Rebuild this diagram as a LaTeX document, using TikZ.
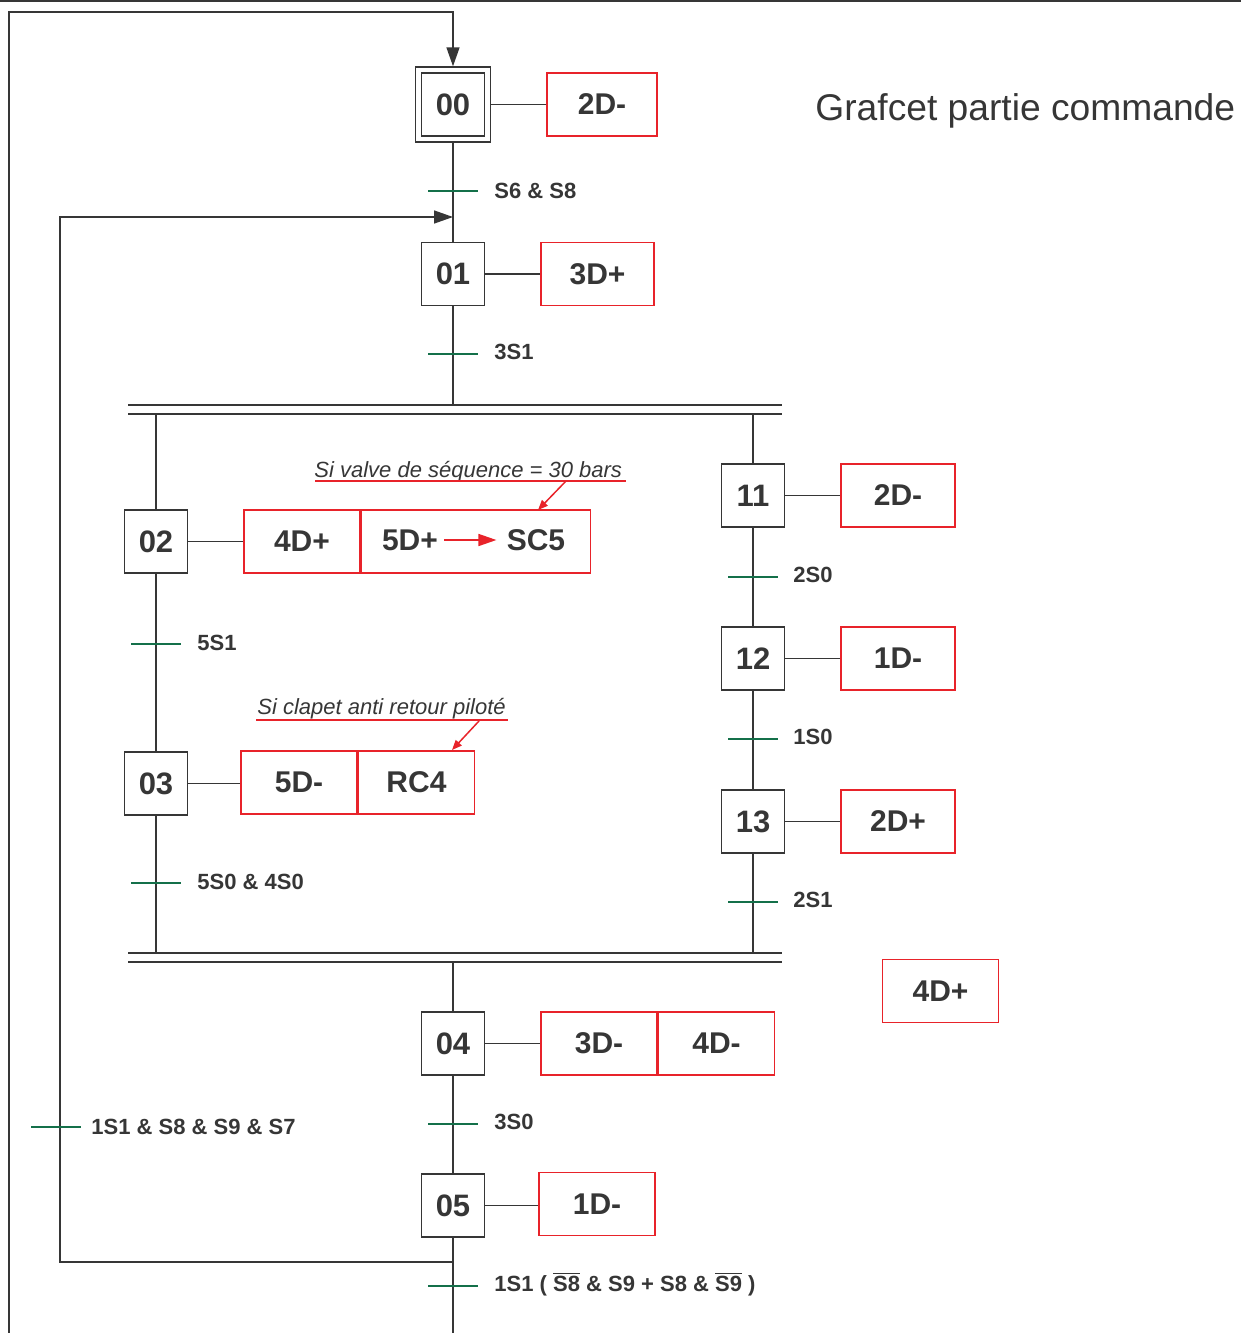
\documentclass[tikz,border=0pt]{standalone}
\usepackage{fontspec}
\setmainfont{Liberation Sans}
\usetikzlibrary{arrows.meta,positioning}

\definecolor{trait}{HTML}{363636}
\definecolor{rouge}{HTML}{E8232A}
\definecolor{vert}{HTML}{14704A}

\newcommand{\fs}[1]{\fontsize{#1}{#1}\selectfont}
\newcommand{\nonS}[1]{$\overline{\mbox{#1}}$}

\tikzset{
  etape/.style={draw=trait, line width=0.75pt, minimum width=31.5pt, minimum height=31.5pt,
    inner sep=0pt, text=trait, font=\bfseries\fs{15.5}},
  initiale/.style={etape, minimum width=34.5pt, minimum height=34.5pt,
    double, double distance=2.2pt, outer sep=1.85pt},
  action/.style={draw=rouge, line width=0.75pt, minimum width=58pt, minimum height=31.5pt,
    inner sep=0pt, text=trait, font=\bfseries\fs{15}},
  lien/.style={draw=trait, line width=0.75pt},
  recep/.style={draw=vert, line width=0.8pt},
  cond/.style={anchor=west, inner sep=0pt, text=trait, font=\bfseries\fs{11}},
  note/.style={anchor=base west, inner sep=0pt, text=trait, font=\itshape\fs{11}},
  fleche/.style={-{Triangle[length=9.5pt,width=6.5pt]}},
  renvoi/.style={draw=rouge, line width=0.75pt, -{Triangle[length=5pt,width=4pt]}},
}

\begin{document}
\begin{tikzpicture}[x=0.5pt, y=-0.5pt]
\useasboundingbox (0,0) rectangle (1241,1333);

% cadre du haut
\draw[lien] (0,0.75) -- (1241,0.75);

\node[anchor=west, inner sep=0pt, text=trait, font=\fs{18.6}] (titre) at (815,111) {Grafcet partie commande};

% etapes
\node[initiale] (e00) at (453,104.5) {00};
\node[etape] (e01) at (453,274) {01};
\node[etape] (e02) at (156,541.5) {02};
\node[etape] (e03) at (156,783.5) {03};
\node[etape] (e11) at (753,495.5) {11};
\node[etape] (e12) at (753,658.5) {12};
\node[etape] (e13) at (753,821.5) {13};
\node[etape] (e04) at (453,1043.5) {04};
\node[etape] (e05) at (453,1205.5) {05};

% actions
\node[action, minimum width=55pt] (a00) at (602,104.5) {2D-};
\node[action, minimum width=56.5pt] (a01) at (597.5,274) {3D+};
\node[action] (a02a) at (302,541.5) {4D+};
\node[action, minimum width=114.5pt, right=0pt of a02a] (a02b) {};
\node[inner sep=0pt, text=trait, font=\bfseries\fs{15}] (t5d) at (410,540) {5D+};
\node[inner sep=0pt, text=trait, font=\bfseries\fs{15}] (tsc5) at (536,540) {SC5};
\node[action] (a03a) at (299,782.5) {5D-};
\node[action, right=0pt of a03a] (a03b) {RC4};
\node[action, minimum width=57pt] (a11) at (898,495.5) {2D-};
\node[action, minimum width=57pt] (a12) at (898,658.5) {1D-};
\node[action, minimum width=57pt] (a13) at (898,821.5) {2D+};
\node[action] (a04a) at (599,1043.5) {3D-};
\node[action, right=0pt of a04a] (a04b) {4D-};
\node[action] (a4d) at (940.5,991) {4D+};
\node[action] (a05) at (597,1204) {1D-};

\draw[rouge, line width=0.8pt, -{Triangle[length=9pt,width=6pt]}, shorten <=3pt, shorten >=5pt] (t5d) -- (tsc5);

% liens etapes - actions
\draw[lien] (e00) -- (a00) (e01) -- (a01) (e02) -- (a02a) (e03.east) -- (a03a.west |- e03.east)
  (e11) -- (a11) (e12) -- (a12) (e13) -- (a13) (e04) -- (a04a) (e05.east) -- (a05.west |- e05.east);

% commentaires
\node[note] (n1) at (314,477) {Si valve de séquence = 30 bars};
\coordinate (s1g) at (315,481);
\coordinate (s1d) at (626,481);
\coordinate (s1f) at (566,481);
\draw[rouge, line width=0.75pt] (s1g) -- (s1d);
\draw[renvoi] (s1f) -- (538,510);
\node[note] (n2) at (257,714) {Si clapet anti retour piloté};
\coordinate (s2g) at (256,720);
\coordinate (s2d) at (508,720);
\coordinate (s2f) at (479,721);
\draw[rouge, line width=0.75pt] (s2g) -- (s2d);
\draw[renvoi] (s2f) -- (452,750);

% retour vers 00
\coordinate (basg) at (9,1333);
\coordinate (hautg) at (9,12);
\coordinate (haut00) at (453,12);
\draw[lien, fleche] (basg) -- (hautg) -- (haut00) -- (e00.north);

% liaisons
\coordinate (div1) at (453,405);
\coordinate (g1) at (156,414);
\coordinate (d1) at (753,414);
\coordinate (g2) at (156,953);
\coordinate (d2) at (753,953);
\coordinate (conv2) at (453,962);
\coordinate (fin) at (453,1333);
\draw[lien] (e00) -- (e01) -- (div1);
\draw[lien] (128,405) -- (782,405) (128,414) -- (782,414);
\draw[lien] (g1) -- (e02) -- (e03) -- (g2);
\draw[lien] (d1) -- (e11) -- (e12) -- (e13) -- (d2);
\draw[lien] (128,953) -- (782,953) (128,962) -- (782,962);
\draw[lien] (conv2) -- (e04) -- (e05) -- (fin);

% reprise vers 01
\coordinate (bas05) at (453,1262);
\coordinate (coinbg) at (60,1262);
\coordinate (coinhg) at (60,217);
\coordinate (retour) at (453,217);
\draw[lien, fleche] (bas05) -- (coinbg) -- (coinhg) -- (retour);

% receptivites
\draw[recep] (428,191) -- (478,191);
\node[cond] (c00) at (494,191) {S6 \& S8};
\draw[recep] (428,354) -- (478,354);
\node[cond] (c01) at (494,352) {3S1};
\draw[recep] (131,644) -- (181,644);
\node[cond] (c02) at (197,643) {5S1};
\draw[recep] (131,883) -- (181,883);
\node[cond] (c03) at (197,882) {5S0 \& 4S0};
\draw[recep] (728,577) -- (778,577);
\node[cond] (c11) at (793,575) {2S0};
\draw[recep] (728,739) -- (778,739);
\node[cond] (c12) at (793,737) {1S0};
\draw[recep] (728,902) -- (778,902);
\node[cond] (c13) at (793,900) {2S1};
\draw[recep] (428,1124) -- (478,1124);
\node[cond] (c04) at (494,1122) {3S0};
\draw[recep] (31,1127) -- (81,1127);
\node[cond] (cret) at (91,1127) {1S1 \& S8 \& S9 \& S7};
\draw[recep] (428,1286) -- (478,1286);
\node[cond] (c05) at (494,1284) {1S1 ( \nonS{S8} \& S9 + S8 \& \nonS{S9} )};
\end{tikzpicture}
\end{document}
